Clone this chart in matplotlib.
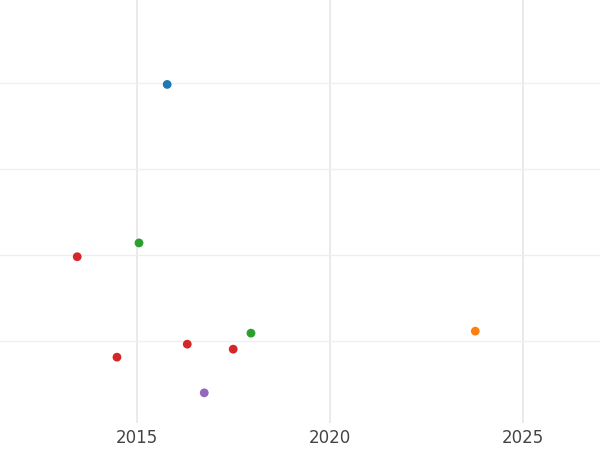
import matplotlib
matplotlib.use("Agg")
import matplotlib.pyplot as plt

years = [2015.78, 2015.05, 2013.45, 2017.95, 2023.76, 2014.48, 2016.30, 2017.49, 2016.74]
values = [2.98, 1.14, 0.98, 0.093, 0.116, -0.186, -0.035, -0.093, -0.60]
colors = ["#1f77b4", "#2ca02c", "#d62728", "#2ca02c", "#ff7f0e", "#d62728", "#d62728", "#d62728", "#9467bd"]

fig = plt.figure(figsize=(6, 4.5), dpi=100)
ax = fig.add_axes([0, 0.06, 1, 0.94])
ax.scatter(years, values, c=colors, s=40, zorder=3, edgecolors="none")
ax.set_xlim(2011.45, 2026.99)
ax.set_ylim(-0.95, 3.96)
ax.set_xticks([2015, 2020, 2025])
ax.set_yticks([0, 1, 2, 3])
ax.set_yticklabels([])
ax.tick_params(axis="y", length=0)
ax.tick_params(axis="x", length=0, labelsize=12, labelcolor="#444444", pad=4)
for s in ax.spines.values():
    s.set_visible(False)
ax.grid(axis="x", color="#e8e8e8", linewidth=1.3, zorder=0)
ax.grid(axis="y", color="#efefef", linewidth=0.9, zorder=0)
fig.savefig("out.png", dpi=100)
